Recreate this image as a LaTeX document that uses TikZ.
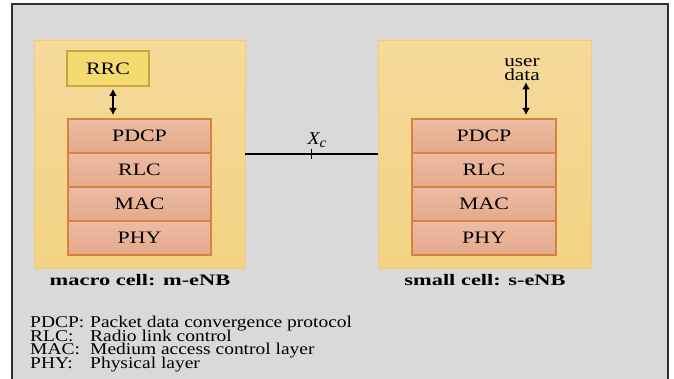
\documentclass[tikz,border=0pt]{standalone}
\usepackage{fontspec}
\setmainfont{Liberation Serif}
\usetikzlibrary{arrows.meta}
\definecolor{bgGray}{HTML}{D9D9D9}
\definecolor{frameGray}{HTML}{303030}
\definecolor{cellTop}{HTML}{F6DA9C}
\definecolor{cellBot}{HTML}{F3D283}
\definecolor{cellEdge}{HTML}{F1CD72}
\definecolor{rrcFill}{HTML}{F5DA70}
\definecolor{rrcEdge}{HTML}{C6A73C}
\definecolor{layTop}{HTML}{ECBCA5}
\definecolor{layBot}{HTML}{E4A98A}
\definecolor{layEdge}{HTML}{D9823F}
\lineskiplimit=-30pt
\newcommand{\wtxt}[2][1.25]{\scalebox{#1}[1]{#2}}
\newcommand{\lgrow}[2]{\makebox[60pt][l]{\wtxt[1.18]{#1}}\wtxt[1.18]{#2}}
\begin{document}
\begin{tikzpicture}[x=1pt,y=-1pt,
  cell/.style={draw=cellEdge,line width=0.8pt,top color=cellTop,bottom color=cellBot,
    minimum width=211pt,minimum height=228pt,inner sep=0pt},
  layer/.style={draw=layEdge,line width=2pt,top color=layTop,bottom color=layBot,
    minimum width=143pt,minimum height=34pt,inner sep=0pt,font=\fontsize{17.5}{20}\selectfont},
  rrcbox/.style={draw=rrcEdge,fill=rrcFill,line width=2pt,minimum width=82pt,
    minimum height=35pt,inner sep=0pt,font=\fontsize{17.5}{20}\selectfont},
  dbl/.style={line width=2pt,{Latex[length=7pt,width=8pt]}-{Latex[length=7pt,width=8pt]}},
  cellname/.style={anchor=base,inner sep=0pt,font=\fontsize{16}{18}\bfseries},
  legend/.style={anchor=base west,inner sep=0pt,align=left,font=\fontsize{16.5}{13.5}\selectfont}]
\clip (0,0) rectangle (674,379);
\useasboundingbox (0,0) rectangle (674,379);
\fill[white] (0,0) rectangle (674,379);
\draw[frameGray,fill=bgGray,line width=1.5pt] (12,4) rectangle (668,390);

% macro cell
\node[cell] (mcell) at (139.5,154) {};
\node[rrcbox] (RRC) at (108,68.5) {\wtxt{RRC}};
\node[layer] (mPDCP) at (139.5,136) {\wtxt{PDCP}};
\node[layer] (mRLC) at (139.5,170) {\wtxt{RLC}};
\node[layer] (mMAC) at (139.5,204) {\wtxt{MAC}};
\node[layer] (mPHY) at (139.5,238) {\wtxt{PHY}};
\node[cellname] (mname) at (140,285) {\wtxt[1.4]{macro cell: m-eNB}};

% small cell
\node[cell,minimum width=213pt] (scell) at (484.5,154) {};
\node[align=center,inner sep=0pt,font=\fontsize{17}{14}\selectfont] (udata) at (522,70)
  {\wtxt{user}\\\wtxt{data}};
\node[layer,minimum width=144pt] (sPDCP) at (484,136) {\wtxt{PDCP}};
\node[layer,minimum width=144pt] (sRLC) at (484,170) {\wtxt{RLC}};
\node[layer,minimum width=144pt] (sMAC) at (484,204) {\wtxt{MAC}};
\node[layer,minimum width=144pt] (sPHY) at (484,238) {\wtxt{PHY}};
\node[cellname] (sname) at (485,285) {\wtxt[1.4]{small cell: s-eNB}};

% arrows
\draw[dbl,shorten <=2pt,shorten >=3pt] ([xshift=5pt]RRC.south) -- ([xshift=5pt]RRC.south |- mPDCP.north);
\draw[dbl,shorten <=1pt,shorten >=3pt] ([xshift=4pt]udata.south) -- ([xshift=4pt]udata.south |- sPDCP.north);

% X_c interface
\draw[line width=1.5pt] (mcell.east |- mPDCP.south) -- (scell.west |- sPDCP.south)
  node[pos=0.5,minimum height=9pt,inner sep=0pt] (xtick) {};
\draw[line width=1.5pt] (xtick.north) -- (xtick.south);
\node[inner sep=0pt,font=\fontsize{18}{18}\selectfont\itshape] (xlabel) at (317,140)
  {\wtxt[1.1]{X\raisebox{-3pt}{\fontsize{14}{14}\selectfont c}}};

% legend (anchored on its last line)
\node[legend] (legend) at (30,368.3) {\lgrow{PDCP:}{Packet data convergence protocol}\\
  \lgrow{RLC:}{Radio link control}\\
  \lgrow{MAC:}{Medium access control layer}\\
  \lgrow{PHY:}{Physical layer}};
\end{tikzpicture}
\end{document}
